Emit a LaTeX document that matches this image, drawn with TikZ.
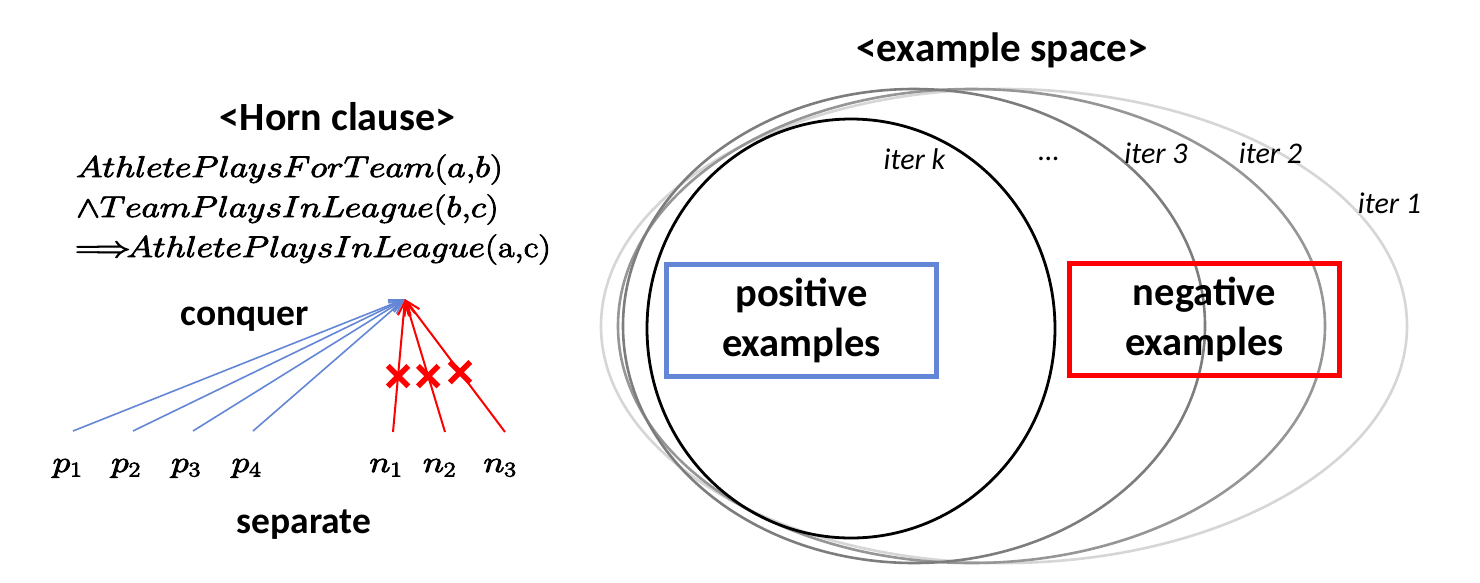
\RequirePackage{fix-cm}
\documentclass[tikz,border=0pt]{standalone}
\usepackage{graphicx}
\usepackage[no-math]{fontspec}
\setmainfont{Carlito}
\usetikzlibrary{arrows.meta,shapes.misc}
\definecolor{pblue}{RGB}{100,134,214}
\definecolor{grayA}{RGB}{214,214,214}
\definecolor{grayB}{RGB}{150,150,150}
\definecolor{grayC}{RGB}{125,125,125}
\newcommand{\hsc}[1]{\special{pdf:literal direct 2 Tr 0.8 w}\scalebox{1.19}[1]{#1}\special{pdf:literal direct 0 Tr}}
\begin{document}
\begin{tikzpicture}[x=1pt,y=-1pt,
  titletext/.style={font=\fontsize{40}{48}\selectfont\bfseries, inner sep=0pt, anchor=base},
  labeltext/.style={font=\fontsize{37.5}{45}\selectfont\bfseries, inner sep=0pt, anchor=base},
  itertext/.style={font=\fontsize{30}{36}\selectfont\itshape, inner sep=0pt, anchor=base},
  mathtext/.style={font=\fontsize{30}{36}\selectfont, inner sep=0pt},
  exbox/.style={draw, line width=5.5pt, minimum width=270pt, minimum height=112pt,
    inner sep=0pt, align=center, font=\fontsize{40.5}{50}\selectfont\bfseries},
  posarrow/.style={draw=pblue, line width=1.6pt, -{Straight Barb[length=14pt,width=11pt]}},
  negarrow/.style={draw=red, line width=2pt, -{Straight Barb[length=14pt,width=11pt]}},
  xmark/.style={cross out, draw=red, line width=5.5pt, minimum size=15pt, inner sep=0pt},
  iterline/.style={line width=2.6pt}
]
\fill[white] (0,0) rectangle (1480,582);
\useasboundingbox (0,0) rectangle (1480,582);

% ---------- left part: Horn clause ----------
\node[titletext] (horn) at (337.5,130) {<Horn clause>};
\node[mathtext, anchor=base west] (l1) at (76,177)
  {\hsc{$AthletePlaysForTeam(a{,}b)$}};
\node[mathtext, anchor=base west] (l2) at (76,217)
  {\hsc{${\wedge}TeamPlaysInLeague(b{,}c)$}};
\node[mathtext, anchor=base west] (l3) at (75,257)
  {\hsc{${\Longrightarrow}\mkern-2mu AthletePlaysInLeague(\mathrm{a{,}c})$}};

\node[labeltext] (conquer) at (245,325) {conquer};
\node[labeltext] (separate) at (304,533) {separate};

\node[mathtext, anchor=base] (p1) at (67.5,472) {\hsc{$p_1$}};
\node[mathtext, anchor=base] (p2) at (126,472) {\hsc{$p_2$}};
\node[mathtext, anchor=base] (p3) at (186,472) {\hsc{$p_3$}};
\node[mathtext, anchor=base] (p4) at (246.5,472) {\hsc{$p_4$}};
\node[mathtext, anchor=base] (n1) at (386,472) {\hsc{$n_1$}};
\node[mathtext, anchor=base] (n2) at (439.5,472) {\hsc{$n_2$}};
\node[mathtext, anchor=base] (n3) at (500,472) {\hsc{$n_3$}};

\coordinate (apex) at (405,299);
\coordinate (sp1) at (73,431);
\coordinate (sp2) at (133,431);
\coordinate (sp3) at (193,431);
\coordinate (sp4) at (253,431);
\coordinate (sn1) at (393,432);
\coordinate (sn2) at (445,432);
\coordinate (sn3) at (505,432);

\draw[posarrow] (sp1) -- (apex);
\draw[posarrow] (sp2) -- (apex);
\draw[posarrow] (sp3) -- (apex);
\draw[posarrow] (sp4) -- (apex);
\draw[negarrow] (sn1) -- node[xmark, pos=0.42] (x1) {} (apex);
\draw[negarrow] (sn2) -- node[xmark, pos=0.42] (x2) {} (apex);
\draw[negarrow] (sn3) -- node[xmark, pos=0.45] (x3) {} (apex);

% ---------- right part: example space ----------
\node[titletext, font=\fontsize{41}{48}\selectfont\bfseries] (space) at (1002,61) {<example space>};

\draw[iterline, grayA] (1004,326) ellipse [x radius=403pt, y radius=237pt];
\draw[iterline, grayB] (971.5,326) ellipse [x radius=353.5pt, y radius=237pt];
\draw[iterline, grayC] (914,326) ellipse [x radius=291pt, y radius=237pt];
\draw[line width=2.8pt, black] (851,328.5) ellipse [x radius=204pt, y radius=209.5pt];

\node[exbox, draw=pblue] (pos) at (801.5,320.5) {positive\\examples};
\node[exbox, draw=red] (neg) at (1204.5,319.5) {negative\\examples};

\node[itertext] (ik) at (914.5,169) {iter k};
\node[itertext] (dots) at (1049,160) {…};
\node[itertext] (i3) at (1156,163) {iter 3};
\node[itertext] (i2) at (1270.5,163) {iter 2};
\node[itertext] (i1) at (1389.5,213) {iter 1};
\end{tikzpicture}
\end{document}
